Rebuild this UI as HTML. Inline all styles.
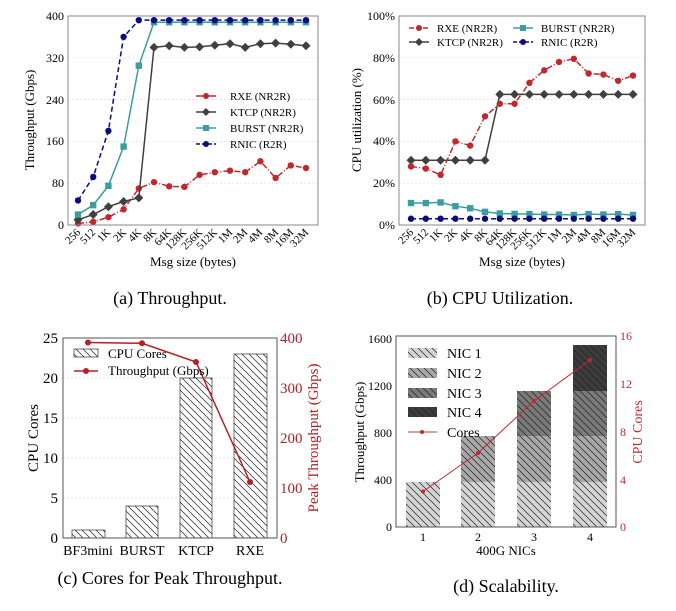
<!DOCTYPE html>
<html><head><meta charset="utf-8"><style>
body{margin:0;background:#fff;}
svg{display:block;font-family:"Liberation Serif",serif;}
</style></head><body>
<svg id="s" width="676" height="611" viewBox="0 0 676 611" xmlns="http://www.w3.org/2000/svg">
<defs>
<pattern id="h" patternUnits="userSpaceOnUse" width="7" height="7"><path d="M-1,-1 L8,8 M-8,-1 L1,8 M6,-1 L15,8" stroke="#222" stroke-width="0.7"/></pattern>
</defs>
<!-- (a) -->
<g stroke="#ddd" stroke-dasharray="2,2" stroke-width="0.7">
<line x1="68" x2="318" y1="183.2" y2="183.2"/><line x1="68" x2="318" y1="141.4" y2="141.4"/><line x1="68" x2="318" y1="99.6" y2="99.6"/><line x1="68" x2="318" y1="57.8" y2="57.8"/>
<line x1="399" x2="645" y1="183.2" y2="183.2"/><line x1="399" x2="645" y1="141.4" y2="141.4"/><line x1="399" x2="645" y1="99.6" y2="99.6"/><line x1="399" x2="645" y1="57.8" y2="57.8"/>
<line x1="63" x2="277" y1="378" y2="378"/><line x1="63" x2="277" y1="418" y2="418"/><line x1="63" x2="277" y1="458" y2="458"/><line x1="63" x2="277" y1="498" y2="498"/>
</g>
<g id="ga"></g><g id="gb"></g>
<rect x="68" y="16" width="250" height="209" fill="none" stroke="#888"/>
<rect x="399" y="16" width="246" height="209" fill="none" stroke="#888"/>
<g font-size="12" text-anchor="end">
<text x="64" y="229">0</text><text x="64" y="187">80</text><text x="64" y="145">160</text><text x="64" y="104">240</text><text x="64" y="62">320</text><text x="64" y="20">400</text>
<text x="395" y="229">0%</text><text x="395" y="187">20%</text><text x="395" y="145">40%</text><text x="395" y="104">60%</text><text x="395" y="62">80%</text><text x="395" y="20">100%</text>
</g>
<text font-size="13" transform="translate(34,120) rotate(-90)" text-anchor="middle">Throughput (Gbps)</text>
<text font-size="13" transform="translate(361,120) rotate(-90)" text-anchor="middle">CPU utilization (%)</text>
<text font-size="13" x="193" y="266" text-anchor="middle">Msg size (bytes)</text>
<text font-size="13" x="522" y="266" text-anchor="middle">Msg size (bytes)</text>
<g font-size="11">
<line x1="196" x2="216" y1="96" y2="96" stroke="#c0282d" stroke-width="1.5"/><circle cx="206" cy="96" r="3" fill="#c0282d"/><text x="230" y="100">RXE (NR2R)</text>
<line x1="196" x2="216" y1="112" y2="112" stroke="#404040" stroke-width="1.5"/><path d="M206,108 L210,112 L206,116 L202,112Z" fill="#404040"/><text x="230" y="116">KTCP (NR2R)</text>
<line x1="196" x2="216" y1="128" y2="128" stroke="#3a9ea0" stroke-width="1.5"/><rect x="203" y="125" width="6" height="6" fill="#3a9ea0"/><text x="230" y="132">BURST (NR2R)</text>
<line x1="196" x2="216" y1="144" y2="144" stroke="#0a0a80" stroke-width="1.5" stroke-dasharray="4,2"/><circle cx="206" cy="144" r="3" fill="#0a0a80"/><text x="230" y="148">RNIC (R2R)</text>
<line x1="409" x2="429" y1="28" y2="28" stroke="#c0282d" stroke-width="1.5" stroke-dasharray="5,2"/><circle cx="419" cy="28" r="3" fill="#c0282d"/><text x="437" y="32">RXE (NR2R)</text>
<line x1="409" x2="429" y1="42" y2="42" stroke="#404040" stroke-width="1.5"/><path d="M419,38 L423,42 L419,46 L415,42Z" fill="#404040"/><text x="437" y="46">KTCP (NR2R)</text>
<line x1="513" x2="533" y1="28" y2="28" stroke="#3a9ea0" stroke-width="1.5"/><rect x="520" y="25" width="6" height="6" fill="#3a9ea0"/><text x="541" y="32">BURST (NR2R)</text>
<line x1="513" x2="533" y1="42" y2="42" stroke="#0a0a80" stroke-width="1.5" stroke-dasharray="4,2"/><circle cx="523" cy="42" r="3" fill="#0a0a80"/><text x="541" y="46">RNIC (R2R)</text>
</g>
<text font-size="18" x="170" y="304" text-anchor="middle">(a)  Throughput.</text>
<text font-size="18" x="500" y="304" text-anchor="middle">(b)  CPU Utilization.</text>

<!-- (c) -->
<rect x="72" y="530" width="33" height="8" fill="url(#h)" stroke="#333" stroke-width="0.7"/>
<rect x="126" y="506" width="32" height="32" fill="url(#h)" stroke="#333" stroke-width="0.7"/>
<rect x="180" y="378" width="32" height="160" fill="url(#h)" stroke="#333" stroke-width="0.7"/>
<rect x="234" y="354" width="33" height="184" fill="url(#h)" stroke="#333" stroke-width="0.7"/>
<polyline points="88,342.5 142,343.3 196,362 250,482" fill="none" stroke="#b52025" stroke-width="1.5"/>
<g fill="#b52025"><circle cx="88" cy="342.5" r="3"/><circle cx="142" cy="343.3" r="3"/><circle cx="196" cy="362" r="3"/><circle cx="250" cy="482" r="3"/></g>
<rect x="63" y="338" width="214" height="200" fill="none" stroke="#555"/>
<rect x="74" y="349" width="24" height="8" fill="url(#h)" stroke="#333" stroke-width="0.7"/>
<text x="108" y="358" font-size="13">CPU Cores</text>
<line x1="74" x2="98" y1="371" y2="371" stroke="#b52025" stroke-width="1.5"/><circle cx="86" cy="371" r="3" fill="#b52025"/>
<text x="108" y="375" font-size="13">Throughput (Gbps)</text>
<g font-size="15" text-anchor="end">
<text x="58" y="543">0</text><text x="58" y="503">5</text><text x="58" y="463">10</text><text x="58" y="423">15</text><text x="58" y="383">20</text><text x="58" y="343">25</text>
</g>
<g font-size="15" fill="#b52025">
<text x="280" y="543">0</text><text x="280" y="493">100</text><text x="280" y="443">200</text><text x="280" y="393">300</text><text x="280" y="343">400</text>
</g>
<g font-size="14" text-anchor="middle">
<text x="88" y="555">BF3mini</text><text x="142" y="555">BURST</text><text x="196" y="555">KTCP</text><text x="250" y="555">RXE</text>
</g>
<text font-size="15" transform="translate(38,438) rotate(-90)" text-anchor="middle">CPU Cores</text>
<text font-size="15" fill="#b52025" transform="translate(318,438) rotate(-90)" text-anchor="middle">Peak Throughput (Gbps)</text>
<text font-size="18" x="170" y="584" text-anchor="middle">(c)  Cores for Peak Throughput.</text>

<!-- (d) -->
<g stroke="none">
<rect x="406" y="482" width="34" height="45" fill="#d4d4d4"/>
<rect x="461" y="482" width="34" height="45" fill="#d4d4d4"/><rect x="461" y="436" width="34" height="46" fill="#a8a8a8"/>
<rect x="517" y="482" width="34" height="45" fill="#d4d4d4"/><rect x="517" y="436" width="34" height="46" fill="#a8a8a8"/><rect x="517" y="391" width="34" height="45" fill="#7a7a7a"/>
<rect x="573" y="482" width="34" height="45" fill="#d4d4d4"/><rect x="573" y="436" width="34" height="46" fill="#a8a8a8"/><rect x="573" y="391" width="34" height="45" fill="#7a7a7a"/><rect x="573" y="345" width="34" height="46" fill="#3c3c3c"/>
<rect x="406" y="482" width="34" height="45" fill="url(#h)"/>
<rect x="461" y="436" width="34" height="91" fill="url(#h)"/>
<rect x="517" y="391" width="34" height="136" fill="url(#h)"/>
<rect x="573" y="345" width="34" height="182" fill="url(#h)"/>
</g>
<polyline points="423,491.5 478,453 534,401 590,360" fill="none" stroke="#c0282d" stroke-width="1"/>
<g fill="#c0282d"><circle cx="423" cy="491.5" r="2"/><circle cx="478" cy="453" r="2"/><circle cx="534" cy="401" r="2"/><circle cx="590" cy="360" r="2"/></g>
<rect x="396" y="336" width="220" height="191" fill="none" stroke="#555"/>
<g>
<rect x="408" y="348" width="29" height="10" fill="#d4d4d4"/><rect x="408" y="348" width="29" height="10" fill="url(#h)"/>
<rect x="408" y="368" width="29" height="10" fill="#a8a8a8"/><rect x="408" y="368" width="29" height="10" fill="url(#h)"/>
<rect x="408" y="388" width="29" height="10" fill="#7a7a7a"/><rect x="408" y="388" width="29" height="10" fill="url(#h)"/>
<rect x="408" y="407" width="29" height="10" fill="#3c3c3c"/><rect x="408" y="407" width="29" height="10" fill="url(#h)"/>
<line x1="408" x2="437" y1="432" y2="432" stroke="#e0a0a0" stroke-width="2"/><circle cx="422" cy="432" r="2" fill="#c0282d"/>
</g>
<g font-size="14">
<text x="447" y="358">NIC 1</text><text x="447" y="378">NIC 2</text><text x="447" y="398">NIC 3</text><text x="447" y="417">NIC 4</text><text x="447" y="437">Cores</text>
</g>
<g font-size="12" text-anchor="end">
<text x="392" y="531">0</text><text x="392" y="484">400</text><text x="392" y="437">800</text><text x="392" y="390">1200</text><text x="392" y="343">1600</text>
</g>
<g font-size="12" fill="#c0282d">
<text x="620" y="531">0</text><text x="620" y="484">4</text><text x="620" y="436">8</text><text x="620" y="388">12</text><text x="620" y="340">16</text>
</g>
<g font-size="12" text-anchor="middle">
<text x="423" y="541">1</text><text x="478" y="541">2</text><text x="534" y="541">3</text><text x="590" y="541">4</text>
</g>
<text font-size="13" x="506" y="555" text-anchor="middle">400G NICs</text>
<text font-size="13" transform="translate(364,432) rotate(-90)" text-anchor="middle">Throughput (Gbps)</text>
<text font-size="14" fill="#c0282d" transform="translate(642,432) rotate(-90)" text-anchor="middle">CPU Cores</text>
<text font-size="18" x="506" y="592" text-anchor="middle">(d)  Scalability.</text>
<g font-size="11" text-anchor="end">
<text transform="translate(81,233) rotate(-45)">256</text><text transform="translate(96,233) rotate(-45)">512</text><text transform="translate(111,233) rotate(-45)">1K</text><text transform="translate(127,233) rotate(-45)">2K</text><text transform="translate(142,233) rotate(-45)">4K</text><text transform="translate(157,233) rotate(-45)">8K</text><text transform="translate(172,233) rotate(-45)">64K</text><text transform="translate(187,233) rotate(-45)">128K</text><text transform="translate(203,233) rotate(-45)">256K</text><text transform="translate(218,233) rotate(-45)">512K</text><text transform="translate(233,233) rotate(-45)">1M</text><text transform="translate(248,233) rotate(-45)">2M</text><text transform="translate(263,233) rotate(-45)">4M</text><text transform="translate(279,233) rotate(-45)">8M</text><text transform="translate(294,233) rotate(-45)">16M</text><text transform="translate(309,233) rotate(-45)">32M</text>
<text transform="translate(414,233) rotate(-45)">256</text><text transform="translate(429,233) rotate(-45)">512</text><text transform="translate(443,233) rotate(-45)">1K</text><text transform="translate(458,233) rotate(-45)">2K</text><text transform="translate(473,233) rotate(-45)">4K</text><text transform="translate(488,233) rotate(-45)">8K</text><text transform="translate(503,233) rotate(-45)">64K</text><text transform="translate(517,233) rotate(-45)">128K</text><text transform="translate(532,233) rotate(-45)">256K</text><text transform="translate(547,233) rotate(-45)">512K</text><text transform="translate(562,233) rotate(-45)">1M</text><text transform="translate(577,233) rotate(-45)">2M</text><text transform="translate(591,233) rotate(-45)">4M</text><text transform="translate(606,233) rotate(-45)">8M</text><text transform="translate(621,233) rotate(-45)">16M</text><text transform="translate(636,233) rotate(-45)">32M</text>
</g>
</svg>
<script>
(function(){
var NS="http://www.w3.org/2000/svg";
function el(g,t,a){var e=document.createElementNS(NS,t);for(var k in a)e.setAttribute(k,a[k]);g.appendChild(e);return e;}
function draw(gid,x0,dx,ys,series){
 var g=document.getElementById(gid);
 series.forEach(function(s){
  var pts=s.d.map(function(v,i){return [x0+dx*i,ys(v)];});
  el(g,"polyline",{points:pts.map(function(p){return p.join(",")}).join(" "),fill:"none",stroke:s.c,"stroke-width":1.5,"stroke-dasharray":s.dash||""});
  pts.forEach(function(p){
   if(s.m=="o")el(g,"circle",{cx:p[0],cy:p[1],r:3.2,fill:s.c});
   else if(s.m=="s")el(g,"rect",{x:p[0]-3.2,y:p[1]-3.2,width:6.4,height:6.4,fill:s.c});
   else el(g,"path",{d:"M"+p[0]+","+(p[1]-4.5)+" l4.5,4.5 l-4.5,4.5 l-4.5,-4.5z",fill:s.c});
  });
 });
}
var R="#c0282d",K="#404040",B="#3a9ea0",N="#0a0a80";
draw("ga",78,15.2,function(v){return 225-v*209/400;},[
 {d:[3,6,15,30,70,82,74,73,96,101,104,101,122,90,114,109],c:R,m:"o",dash:"6,2,1,2"},
 {d:[10,20,35,45,52,340,343,340,341,344,347,340,347,348,346,343],c:K,m:"d"},
 {d:[20,38,75,150,305,388,388,388,388,388,388,388,388,388,388,388],c:B,m:"s"},
 {d:[47,92,180,360,392,392,392,392,392,392,392,392,392,392,392,392],c:N,m:"o",dash:"5,3"}]);
draw("gb",411,14.8,function(v){return 225-v*2.09;},[
 {d:[10.5,10.5,10.8,9,8,6.3,5.5,5.3,5.2,5,5,4.8,5.2,5,5.2,4.8],c:B,m:"s"},
 {d:[3,3,3,3,3,3,3,3,3,3,3,3,3,3,3,3],c:N,m:"o",dash:"5,3"},
 {d:[31,31,31,31,31,31,62.5,62.5,62.5,62.5,62.5,62.5,62.5,62.5,62.5,62.5],c:K,m:"d"},
 {d:[28,27,24,40,38,52,58,58,68,74,78,79.5,72.5,72,69,71.5],c:R,m:"o",dash:"6,2,1,2"}]);
})();
</script>
</body></html>
